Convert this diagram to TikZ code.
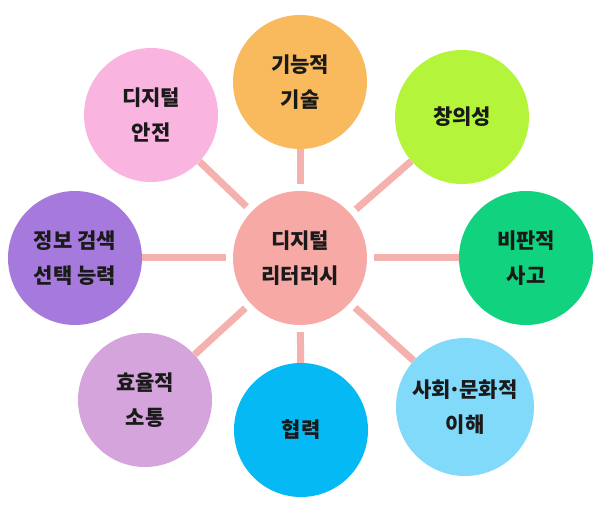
\documentclass[tikz,border=0pt]{standalone}
\usepackage{fontspec}
\newfontfamily\kr{Noto Sans CJK KR Black}
\definecolor{cTech}{HTML}{F9BA5E}
\definecolor{cSafe}{HTML}{F9B4E0}
\definecolor{cCreat}{HTML}{B4F53C}
\definecolor{cInfo}{HTML}{A67ADC}
\definecolor{cCenter}{HTML}{F7A9A6}
\definecolor{cCrit}{HTML}{10D27F}
\definecolor{cComm}{HTML}{D5A4DC}
\definecolor{cCoop}{HTML}{05B9F5}
\definecolor{cSocio}{HTML}{82DAFA}
\definecolor{cLine}{HTML}{F4B1AE}
\definecolor{cText}{HTML}{1A1A1A}
\begin{document}
\begin{tikzpicture}[x=1pt,y=-1pt,
  bubble/.style={circle,minimum size=134pt,inner sep=0pt,align=center,
    text=cText,font=\kr\fontsize{21}{35}\selectfont},
  spoke/.style={draw=cLine,line width=7pt,shorten <=7pt}]
\useasboundingbox (0,0) rectangle (600,505);
\fill[white] (0,0) rectangle (600,505);
\node[bubble,fill=cCenter] (c) at (300,258) {디지털\\리터러시};
\node[bubble,fill=cTech] (tech) at (300,82) {기능적\\기술};
\node[bubble,fill=cSafe] (safe) at (151,115) {디지털\\안전};
\node[bubble,fill=cCreat] (creat) at (462,117) {창의성};
\node[bubble,fill=cInfo] (info) at (75,258) {정보 검색\\선택 능력};
\node[bubble,fill=cCrit] (crit) at (526,258) {비판적\\사고};
\node[bubble,fill=cComm] (comm) at (145,400) {효율적\\소통};
\node[bubble,fill=cCoop] (coop) at (301,430) {협력};
\node[bubble,fill=cSocio,minimum size=138pt] (socio) at (465,407) {사회{\kern-.1em·\kern-.1em}문화적\\이해};
\foreach \n in {tech,safe,creat,info,crit,comm,coop,socio}
  \draw[spoke] (c) -- (\n);
\end{tikzpicture}
\end{document}
